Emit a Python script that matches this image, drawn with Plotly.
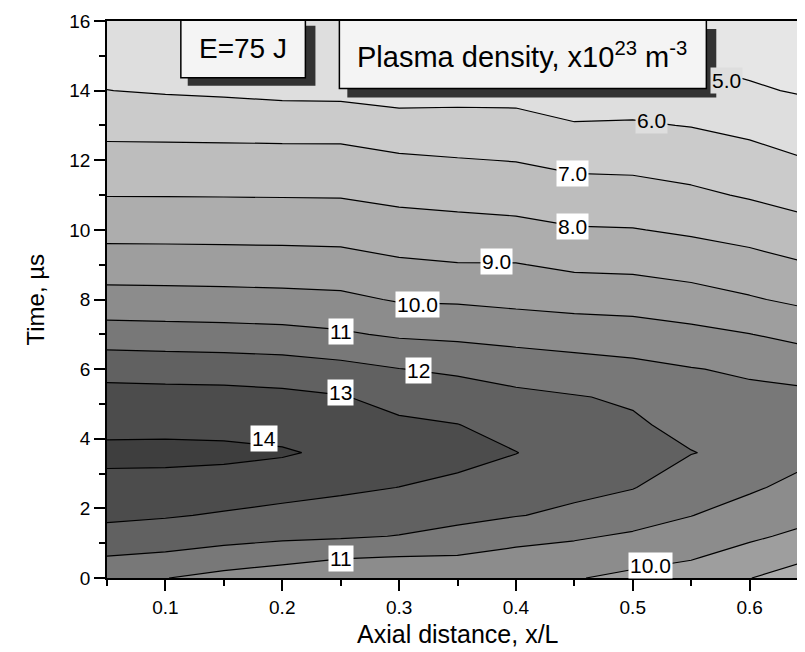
import plotly.graph_objects as go

# ---- data ----
x_pos = [0.05, 0.10, 0.15, 0.20, 0.25, 0.30, 0.35, 0.40, 0.45, 0.50, 0.55, 0.60, 0.65]
t_us = [0, 0.6, 1.2, 1.8, 2.6, 3.6, 4.4, 5.2, 6, 7, 8, 9, 10, 11, 12, 13, 14, 15, 16]

# density (x10^23 m^-3) per axial position column, listed from t=0 upward
col_005 = [11.2, 11.97, 12.67, 13.18, 13.64, 14.3, 13.65, 13.32, 12.7, 11.43, 10.38, 9.48, 8.69, 7.97, 7.35, 6.70, 6.01, 5.65, 5.3]
col_010 = [11.02, 11.83, 12.51, 13.08, 13.6, 14.3, 13.68, 13.3, 12.65, 11.38, 10.35, 9.47, 8.68, 7.97, 7.35, 6.68, 5.92, 5.6, 5.3]
col_015 = [10.7, 11.56, 12.34, 12.91, 13.51, 14.25, 13.66, 13.3, 12.6, 11.34, 10.32, 9.45, 8.67, 7.96, 7.35, 6.65, 5.85, 5.55, 5.3]
col_020 = [10.5, 11.29, 12.2, 12.71, 13.38, 14.1, 13.62, 13.22, 12.5, 11.28, 10.28, 9.42, 8.66, 7.95, 7.35, 6.62, 5.75, 5.5, 5.28]
col_025 = [10.35, 11.06, 12.12, 12.59, 13.17, 13.8, 13.43, 13.06, 12.3, 11.12, 10.21, 9.39, 8.63, 7.94, 7.34, 6.62, 5.72, 5.48, 5.27]
col_030 = [10.3, 10.98, 11.97, 12.41, 12.99, 13.5, 13.17, 12.67, 12.02, 10.87, 9.92, 9.15, 8.43, 7.77, 7.15, 6.4, 5.6, 5.4, 5.25]
col_035 = [10.3, 10.94, 11.7, 12.26, 12.82, 13.25, 13.02, 12.48, 11.84, 10.78, 9.88, 9.04, 8.34, 7.68, 7.05, 6.36, 5.67, 5.4, 5.2]
col_040 = [10.2, 10.71, 11.32, 12.04, 12.48, 13.02, 12.63, 12.21, 11.61, 10.64, 9.76, 9.04, 8.27, 7.59, 6.97, 6.32, 5.68, 5.35, 5.1]
col_045 = [10.05, 10.57, 11.12, 11.81, 12.23, 12.6, 12.32, 12.05, 11.42, 10.53, 9.64, 8.82, 8.07, 7.41, 6.75, 6.06, 5.5, 5.25, 5.01]
col_050 = [9.8, 10.29, 10.87, 11.42, 12.04, 12.3, 12.13, 11.88, 11.26, 10.44, 9.59, 8.77, 8.04, 7.37, 6.72, 6.08, 5.58, 5.1, 4.8]
col_055 = [9.55, 10.08, 10.54, 11.02, 11.45, 12.03, 11.73, 11.38, 11.04, 10.25, 9.39, 8.59, 7.86, 7.18, 6.56, 5.97, 5.36, 4.89, 4.6]
col_060 = [9.02, 9.62, 10.16, 10.58, 11.13, 11.75, 11.48, 11.22, 10.87, 10.02, 9.09, 8.36, 7.63, 6.91, 6.34, 5.76, 5.1, 4.75, 4.5]
col_065 = [8.5, 9.11, 9.75, 10.22, 10.68, 11.22, 11.6, 11.2, 10.64, 9.68, 8.78, 8.04, 7.29, 6.62, 6.02, 5.44, 4.91, 4.65, 4.4]

columns = [col_005, col_010, col_015, col_020, col_025, col_030, col_035,
           col_040, col_045, col_050, col_055, col_060, col_065]
z = [[col[i] for col in columns] for i in range(len(t_us))]

level_start, level_end, level_step = 5, 14, 1

# contour labels: text, x/L, t
label_texts = ["5.0", "6.0", "7.0", "8.0", "9.0", "10.0", "11", "12", "13", "14", "11", "10.0"]
label_x = [0.580, 0.516, 0.448, 0.448, 0.383, 0.316, 0.250, 0.317, 0.250, 0.184, 0.250, 0.515]
label_t = [14.30, 13.14, 11.63, 10.09, 9.09, 7.86, 7.09, 5.95, 5.33, 4.00, 0.57, 0.36]
label_bg = ["#dedede", "#dedede", "white", "white", "white", "white", "white",
            "white", "white", "white", "white", "white"]

band_grays = ["#e6e6e6", "#dedede", "#cbcbcb", "#bdbdbd", "#adadad", "#9e9e9e",
              "#8c8c8c", "#787878", "#616161", "#4c4c4c", "#3e3e3e"]
colorscale = [[i / (len(band_grays) - 1), c] for i, c in enumerate(band_grays)]

FONT = "Liberation Sans, Arial, Helvetica, sans-serif"

fig = go.Figure()
fig.add_trace(go.Contour(
    x=x_pos, y=t_us, z=z,
    contours=dict(start=level_start, end=level_end, size=level_step,
                  coloring="fill", showlabels=False),
    colorscale=colorscale,
    line=dict(color="black", width=1.2, smoothing=0),
    showscale=False,
    hoverinfo="skip",
))

annotations = []
for txt, lx, lt, bg in zip(label_texts, label_x, label_t, label_bg):
    annotations.append(dict(
        x=lx, y=lt, xref="x", yref="y", text=txt, showarrow=False,
        font=dict(family=FONT, size=21, color="black"),
        bgcolor=bg, borderpad=1,
    ))

# boxed captions
annotations.append(dict(x=0.1665, y=15.22, xref="x", yref="y", text="E=75 J",
                        showarrow=False, font=dict(family=FONT, size=28, color="black")))
annotations.append(dict(x=0.405, y=15.02, xref="x", yref="y",
                        text="Plasma density, x10<sup>23</sup> m<sup>-3</sup>",
                        showarrow=False, font=dict(family=FONT, size=29, color="black")))

# axis titles
annotations.append(dict(x=0.5, y=0, xref="paper", yref="paper", yshift=-56,
                        text="Axial distance, x/L", showarrow=False,
                        yanchor="middle", xanchor="center",
                        font=dict(family=FONT, size=25, color="black")))
annotations.append(dict(x=0, y=0.5, xref="paper", yref="paper", xshift=-72,
                        text="Time, \u00b5s", showarrow=False, textangle=-90,
                        yanchor="middle", xanchor="center",
                        font=dict(family=FONT, size=24, color="black")))

shapes = [
    # E box shadow + box
    dict(type="rect", xref="x", yref="y", x0=0.1191, x1=0.2284, y0=14.14, y1=15.86,
         fillcolor="#333333", line=dict(width=0), layer="above"),
    dict(type="rect", xref="x", yref="y", x0=0.1132, x1=0.2198, y0=14.37, y1=16.06,
         fillcolor="#f4f4f4", line=dict(color="black", width=1.5), layer="above"),
    # plasma box shadow + box
    dict(type="rect", xref="x", yref="y", x0=0.2557, x1=0.5715, y0=13.80, y1=15.77,
         fillcolor="#333333", line=dict(width=0), layer="above"),
    dict(type="rect", xref="x", yref="y", x0=0.2489, x1=0.5630, y0=14.06, y1=16.05,
         fillcolor="#f4f4f4", line=dict(color="black", width=1.5), layer="above"),
]

axis_common = dict(
    showgrid=False, zeroline=False, showline=True, linecolor="black", linewidth=1.5,
    mirror=True, ticks="outside", ticklen=11, tickwidth=1.5, tickcolor="black",
    tickfont=dict(family=FONT, size=19, color="black"),
    ticklabeloverflow="allow",
)

fig.update_layout(
    width=805, height=652,
    margin=dict(l=99, r=3, t=10, b=82),
    paper_bgcolor="white", plot_bgcolor="white",
    font=dict(family=FONT, color="black"),
    xaxis=dict(range=[0.05, 0.65], tick0=0, dtick=0.1, tickformat=".1f",
               minor=dict(ticks="outside", ticklen=6, tickwidth=1.5, tickcolor="black",
                          dtick=0.05, tick0=0, showgrid=False),
               **axis_common),
    yaxis=dict(range=[0, 16], tick0=0, dtick=2,
               minor=dict(ticks="outside", ticklen=6, tickwidth=1.5, tickcolor="black",
                          dtick=1, tick0=0, showgrid=False),
               **axis_common),
    annotations=annotations,
    shapes=shapes,
    showlegend=False,
)

fig.write_html("out.html")
